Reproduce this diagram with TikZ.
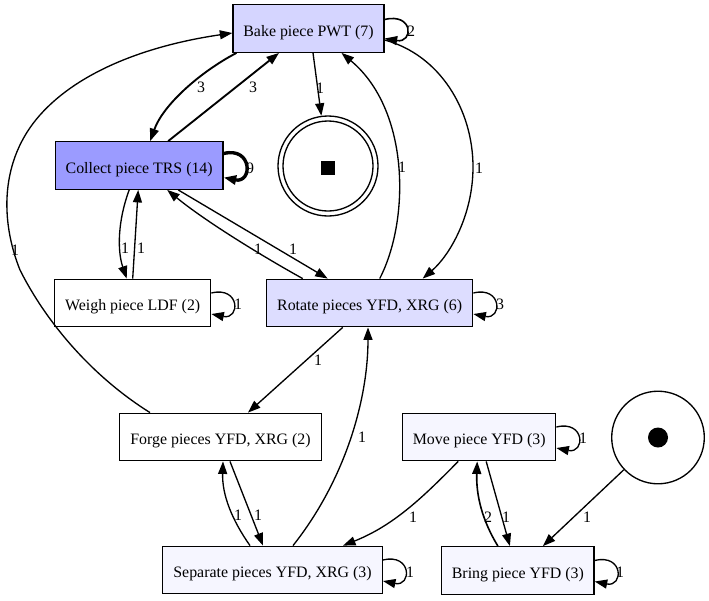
\documentclass[tikz,border=0pt]{standalone}
\usepackage{fontspec}
\setmainfont{Liberation Serif}
\usetikzlibrary{arrows.meta,calc}
\definecolor{freqmax}{HTML}{9B9BFF}
\definecolor{freqbake}{HTML}{D5D5FF}
\definecolor{freqrot}{HTML}{DDDDFF}
\definecolor{freqlow}{HTML}{F6F6FF}
\begin{document}
\begin{tikzpicture}[x=1pt,y=-1pt,
  every node/.style={font=\fontsize{15.9}{18}\selectfont},
  act/.style={draw=black, line width=1.33pt, rectangle, minimum height=47.5pt, inner sep=0pt,
    text height=15.6pt, text depth=0pt},
  lbl/.style={inner sep=0pt},
  arc/.style={line width=1.33pt, -{Triangle[length=12.5pt,width=9pt]}},
  arctwo/.style={arc, line width=1.6pt},
  arcthree/.style={arc, line width=1.87pt},
  arcnine/.style={arc, line width=3.4pt}]
\useasboundingbox (0,0) rectangle (709,600);

% activities
\node[act, fill=freqbake, minimum width=151pt] (bake) at (308.5,28.5) {Bake piece PWT (7)};
\node[act, fill=freqmax, minimum width=167.7pt] (collect) at (139.2,165.5) {Collect piece TRS (14)};
\node[act, fill=white, minimum width=156pt] (weigh) at (132.7,303) {Weigh piece LDF (2)};
\node[act, fill=freqrot, minimum width=206pt] (rotate) at (369.7,303) {Rotate pieces YFD, XRG (6)};
\node[act, fill=white, minimum width=202.4pt] (forge) at (220.5,437) {Forge pieces YFD, XRG (2)};
\node[act, fill=freqlow, minimum width=153pt] (move) at (479.2,437) {Move piece YFD (3)};
\node[act, fill=freqlow, minimum width=219.6pt] (separate) at (272.5,570) {Separate pieces YFD, XRG (3)};
\node[act, fill=freqlow, minimum width=152.3pt] (bring) at (517.9,570.5) {Bring piece YFD (3)};

% start and end places
\node[circle, draw=black, line width=1.33pt, minimum size=100pt, inner sep=0pt] (endn) at (328,166) {};
\draw[line width=1.33pt] (endn.center) circle[radius=45pt];
\node[fill=black, minimum size=14pt, inner sep=0pt] (endmark) at (328,167.5) {};
\node[circle, draw=black, line width=1.33pt, minimum size=92.6pt, inner sep=0pt] (start) at (658,437.5) {};
\node[circle, fill=black, minimum size=20pt, inner sep=0pt] (startdot) at (start.center) {};

% self loops
\draw[arctwo] ($(bake.east)+(0,-9)$) .. controls ($(bake.east)+(29,-16)$) and ($(bake.east)+(29,15)$) .. ($(bake.east)+(0,10)$);
\draw[arcnine] ($(collect.east)+(0,-12)$) .. controls ($(collect.east)+(29,-19)$) and ($(collect.east)+(29,18)$) .. ($(collect.east)+(0,12)$);
\draw[arc] ($(weigh.east)+(0,-10)$) .. controls ($(weigh.east)+(29,-17)$) and ($(weigh.east)+(29,17)$) .. ($(weigh.east)+(0,11)$);
\draw[arc] ($(rotate.east)+(0,-10)$) .. controls ($(rotate.east)+(29,-17)$) and ($(rotate.east)+(29,17)$) .. ($(rotate.east)+(0,11)$);
\draw[arc] ($(move.east)+(0,-10)$) .. controls ($(move.east)+(29,-17)$) and ($(move.east)+(29,17)$) .. ($(move.east)+(0,11)$);
\draw[arc] ($(separate.east)+(0,-10)$) .. controls ($(separate.east)+(29,-17)$) and ($(separate.east)+(29,17)$) .. ($(separate.east)+(0,11)$);
\draw[arc] ($(bring.east)+(0,-10)$) .. controls ($(bring.east)+(29,-17)$) and ($(bring.east)+(29,17)$) .. ($(bring.east)+(0,11)$);

% arcs between activities
\draw[arcthree] ([xshift=-72pt]bake.south) .. controls (200,72) and (163,105) .. ([xshift=11pt]collect.north);
\draw[arcthree] ([xshift=29pt]collect.north) -- ([xshift=-29.5pt]bake.south);
\draw[arc] ([xshift=4.5pt]bake.south) -- (endn);
\draw[arc] ([yshift=-11.5pt]bake.east) .. controls (440,55) and (473,110) .. (473,167) .. controls (473,215) and (450,255) .. ([xshift=53pt]rotate.north);
\draw[arc] ([xshift=10pt]rotate.north) .. controls (410,220) and (410,110) .. ([xshift=33pt]bake.south);
\draw[arc] ([xshift=-10pt]collect.south) .. controls (118,220) and (117,250) .. ([xshift=-6pt]weigh.north);
\draw[arc] (weigh.north) -- ([xshift=-1pt]collect.south);
\draw[arc] ([xshift=-67pt]rotate.north) .. controls (262,256) and (205,221) .. ([xshift=28pt]collect.south);
\draw[arc] ([xshift=39pt]collect.south) -- ([xshift=-42pt]rotate.north);
\draw[arc] ([xshift=-27pt]rotate.south) -- ([xshift=27.5pt]forge.north);
\draw[arc] ([xshift=-70.5pt]forge.north) .. controls (90,375) and (45,320) .. (20,270) .. controls (0,220) and (0,160) .. (40,115) .. controls (80,70) and (150,45) .. ([yshift=-4.5pt]bake.west);
\draw[arc] ([xshift=9.5pt]forge.south) -- ([xshift=-9.5pt]separate.north);
\draw[arc] ([xshift=-22.5pt]separate.north) .. controls (232,520) and (222,495) .. ([xshift=2.5pt]forge.south);
\draw[arc] ([xshift=20.5pt]separate.north) .. controls (345,480) and (368,400) .. ([xshift=-1.7pt]rotate.south);
\draw[arc] ([xshift=-21pt]move.south) .. controls (425,495) and (395,525) .. ([xshift=70.5pt]separate.north);
\draw[arc] ([xshift=7pt]move.south) -- ([xshift=-8pt]bring.north);
\draw[arctwo] ([xshift=-20pt]bring.north) .. controls (482,520) and (476,495) .. ([xshift=-2pt]move.south);
\draw[arc] (start) -- ([xshift=25pt]bring.north);

% arc labels
\node[lbl] (lbakeloop) at (411,31) {2};
\node[lbl] (lbakecollect) at (201,87) {3};
\node[lbl] (lcollectbake) at (253,87) {3};
\node[lbl] (lcollectloop) at (250,168) {9};
\node[lbl] (lbakeend) at (320,88) {1};
\node[lbl] (lbakerotate) at (479,168) {1};
\node[lbl] (lrotatebake) at (402,167) {1};
\node[lbl] (lcollectweigh) at (125,248) {1};
\node[lbl] (lweighcollect) at (141,248) {1};
\node[lbl] (lweighloop) at (238,304) {1};
\node[lbl] (lrotatecollect) at (258,249) {1};
\node[lbl] (lcollectrotate) at (293,249) {1};
\node[lbl] (lrotateloop) at (500,304) {3};
\node[lbl] (lrotateforge) at (318,360) {1};
\node[lbl] (lforgebake) at (15,250) {1};
\node[lbl] (lforgeseparate) at (258,515) {1};
\node[lbl] (lseparateforge) at (238,515) {1};
\node[lbl] (lseparaterotate) at (362,437) {1};
\node[lbl] (lseparateloop) at (410,572) {1};
\node[lbl] (lmoveseparate) at (413,517) {1};
\node[lbl] (lmoveloop) at (583,438) {1};
\node[lbl] (lmovebring) at (506,517) {1};
\node[lbl] (lbringmove) at (488,517) {2};
\node[lbl] (lstartbring) at (587,517) {1};
\node[lbl] (lbringloop) at (620,572) {1};
\end{tikzpicture}
\end{document}
